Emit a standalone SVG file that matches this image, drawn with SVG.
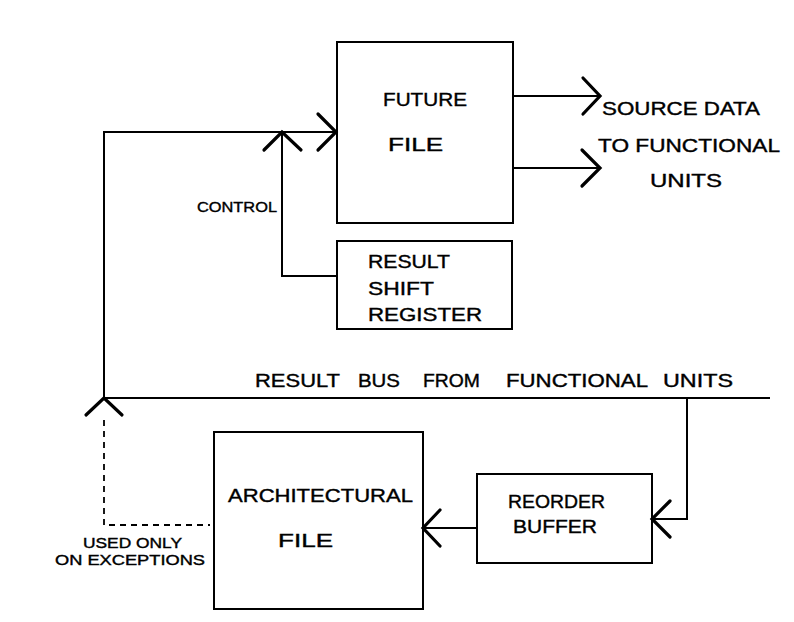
<svg xmlns="http://www.w3.org/2000/svg" width="794" height="622" viewBox="0 0 794 622">
<style>
.box{fill:none;stroke:#000;stroke-width:2}
.ln{fill:none;stroke:#000;stroke-width:2}
.ah{fill:none;stroke:#000;stroke-width:3.2;stroke-linecap:round;stroke-linejoin:miter}
.dash{fill:none;stroke:#000;stroke-width:1.8;stroke-dasharray:6 5}
text{font-family:"Liberation Sans","DejaVu Sans",sans-serif;font-size:19px;fill:#000;stroke:#000;stroke-width:0.4}
.sm{font-size:15px}
</style>
<rect width="794" height="622" fill="#fff"/>
<g id="connectors">
  <polyline class="ln" points="104,398 104,132 336,132"/>
  <polyline class="ah" points="318,114 336,132 318,150"/>
  <polyline class="ln" points="336,276 282,276 282,132"/>
  <polyline class="ah" points="264,150 282,132 301,150"/>
  <line class="ln" x1="512" y1="96" x2="600" y2="96"/>
  <polyline class="ah" points="583,78 600,96 583,114"/>
  <line class="ln" x1="512" y1="168" x2="600" y2="168"/>
  <polyline class="ah" points="582,150 600,168 582,186"/>
  <line class="ln" x1="104" y1="398" x2="770" y2="398"/>
  <polyline class="ah" points="86,415 104,398 122,415"/>
  <polyline class="dash" points="104,420 104,525 210,525"/>
  <polyline class="ln" points="687,398 687,519 652,519"/>
  <polyline class="ah" points="670,501 652,519 670,537"/>
  <line class="ln" x1="477" y1="528" x2="423" y2="528"/>
  <polyline class="ah" points="440,510 423,528 440,546"/>
</g>
<g id="future-file">
  <rect class="box" x="337" y="42" width="176" height="181"/>
  <text x="383" y="106" textLength="84" lengthAdjust="spacingAndGlyphs">FUTURE</text>
  <text x="388" y="151" textLength="55" lengthAdjust="spacingAndGlyphs">FILE</text>
</g>
<g id="result-shift-register">
  <rect class="box" x="337" y="241" width="175" height="88"/>
  <text x="368" y="268" textLength="82" lengthAdjust="spacingAndGlyphs">RESULT</text>
  <text x="368" y="295" textLength="66" lengthAdjust="spacingAndGlyphs">SHIFT</text>
  <text x="368" y="321" textLength="114" lengthAdjust="spacingAndGlyphs">REGISTER</text>
</g>
<g id="architectural-file">
  <rect class="box" x="214" y="432" width="209" height="177"/>
  <text x="228" y="502" textLength="185" lengthAdjust="spacingAndGlyphs">ARCHITECTURAL</text>
  <text x="278" y="547" textLength="55" lengthAdjust="spacingAndGlyphs">FILE</text>
</g>
<g id="reorder-buffer">
  <rect class="box" x="477" y="474" width="175" height="89"/>
  <text x="508" y="508" textLength="97" lengthAdjust="spacingAndGlyphs">REORDER</text>
  <text x="513" y="533" textLength="84" lengthAdjust="spacingAndGlyphs">BUFFER</text>
</g>
<g id="labels">
  <text class="sm" x="197" y="212" textLength="80" lengthAdjust="spacingAndGlyphs">CONTROL</text>
  <text x="602" y="115" textLength="158" lengthAdjust="spacingAndGlyphs">SOURCE DATA</text>
  <text x="598" y="152" textLength="182" lengthAdjust="spacingAndGlyphs">TO FUNCTIONAL</text>
  <text x="650" y="187" textLength="72" lengthAdjust="spacingAndGlyphs">UNITS</text>
  <text x="255" y="387" textLength="85" lengthAdjust="spacingAndGlyphs">RESULT</text>
  <text x="358" y="387" textLength="42" lengthAdjust="spacingAndGlyphs">BUS</text>
  <text x="423" y="387" textLength="57" lengthAdjust="spacingAndGlyphs">FROM</text>
  <text x="506" y="387" textLength="142" lengthAdjust="spacingAndGlyphs">FUNCTIONAL</text>
  <text x="663" y="387" textLength="70" lengthAdjust="spacingAndGlyphs">UNITS</text>
  <text class="sm" x="83" y="548" textLength="99" lengthAdjust="spacingAndGlyphs">USED ONLY</text>
  <text class="sm" x="55" y="565" textLength="150" lengthAdjust="spacingAndGlyphs">ON EXCEPTIONS</text>
</g>
</svg>
